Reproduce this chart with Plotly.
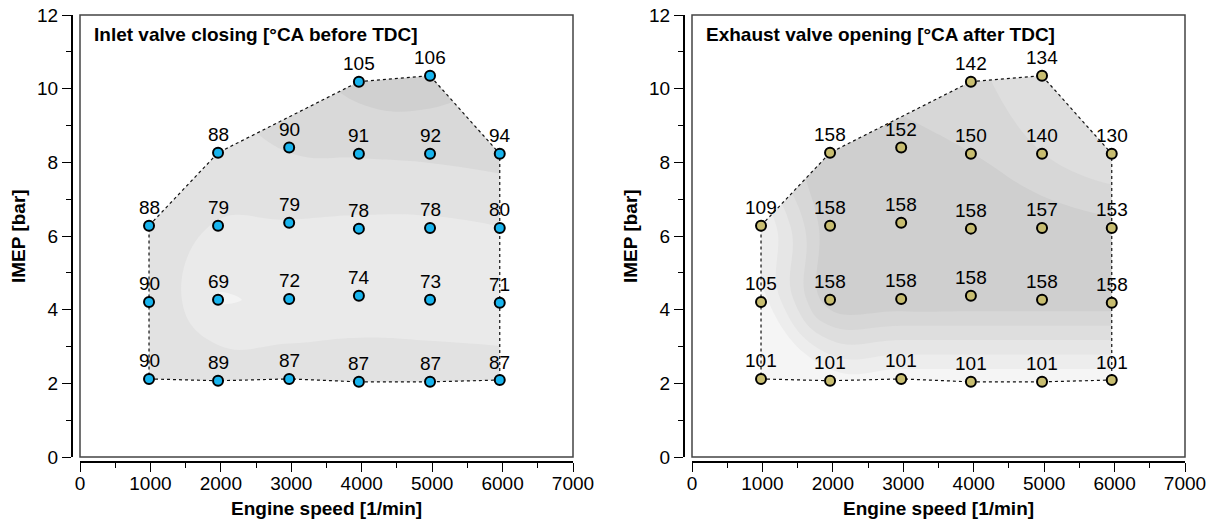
import plotly.graph_objects as go
import numpy as np

# ---------------- data ----------------
speed = [980, 1960, 2970, 3960, 4970, 5960,
         980, 1960, 2970, 3960, 4970, 5960,
         980, 1960, 2970, 3960, 4970, 5960,
         1960, 2970, 3960, 4970, 5960,
         3960, 4970]
imep = [2.12, 2.07, 2.12, 2.04, 2.04, 2.09,
        4.21, 4.27, 4.29, 4.38, 4.27, 4.19,
        6.28, 6.28, 6.36, 6.20, 6.22, 6.22,
        8.26, 8.40, 8.23, 8.23, 8.23,
        10.19, 10.35]
ivc = [90, 89, 87, 87, 87, 87,
       90, 69, 72, 74, 73, 71,
       88, 79, 79, 78, 78, 80,
       88, 90, 91, 92, 94,
       105, 106]
evo = [101, 101, 101, 101, 101, 101,
       105, 158, 158, 158, 158, 158,
       109, 158, 158, 158, 157, 153,
       158, 152, 150, 140, 130,
       142, 134]
# boundary of the measured operating range (indices into the point list)
hull_idx = [0, 1, 2, 3, 4, 5, 11, 17, 22, 24, 23, 18, 12, 6, 0]

titles = ["Inlet valve closing [°CA before TDC]", "Exhaust valve opening [°CA after TDC]"]
x_ticks = [0, 1000, 2000, 3000, 4000, 5000, 6000, 7000]
y_ticks = [0, 2, 4, 6, 8, 10, 12]

W, H = 1215, 522
FONT = "Liberation Sans, Arial, sans-serif"

panels = [
    dict(vals=ivc, color="#18b4ee", x0=80, x1=573, ax="x", ay="y",
         start=70, end=100, size=10, c0="#f3f3f3", c1="#d0d0d0"),
    dict(vals=evo, color="#c8bd70", x0=692, x1=1185, ax="x2", ay="y2",
         start=110, end=150, size=10, c0="#f5f5f5", c1="#cfcfcf"),
]
Y0, Y1 = 15, 457

fig = go.Figure()

sp = np.array(speed, float)
im = np.array(imep, float)
col = np.rint(sp / 1000).astype(int) - 1
row = np.rint(im / 2).astype(int) - 1
ncol, nrow = col.max() + 1, row.max() + 1
gx = np.array([sp[col == c].mean() for c in range(ncol)])
gy = np.array([im[row == r].mean() for r in range(nrow)])
gy[0] = im[row == 0].min()
gy[-1] = im[row == nrow - 1].max()

hx = [speed[i] for i in hull_idx]
hy = [imep[i] for i in hull_idx]

for k, p in enumerate(panels):
    xa, ya = p["ax"], p["ay"]
    z = [[None] * ncol for _ in range(nrow)]
    for c, r, v in zip(col, row, p["vals"]):
        z[r][c] = v
    fig.add_trace(go.Contour(
        x=gx, y=gy, z=z, xaxis=xa, yaxis=ya,
        contours=dict(start=p["start"], end=p["end"], size=p["size"], coloring="fill", showlines=False),
        colorscale=[[0, p["c0"]], [1, p["c1"]]],
        line=dict(width=0, smoothing=1.3), showscale=False, hoverinfo="skip", connectgaps=True))
    # white mask outside the measured range
    ox0, ox1 = gx.min() - 150, gx.max() + 150
    oy0, oy1 = gy.min() - 0.3, gy.max() + 0.3
    mx = [ox0, ox1, ox1, ox0, ox0] + hx[::-1] + [ox0]
    my = [oy0, oy0, oy1, oy1, oy0] + hy[::-1] + [oy0]
    fig.add_trace(go.Scatter(x=mx, y=my, xaxis=xa, yaxis=ya, mode="lines", fill="toself",
                             fillcolor="white", line=dict(width=0), hoverinfo="skip"))
    # dotted boundary
    fig.add_trace(go.Scatter(x=hx, y=hy, xaxis=xa, yaxis=ya, mode="lines",
                             line=dict(color="#111", width=1.2, dash="dot"), hoverinfo="skip"))
    # measured points
    fig.add_trace(go.Scatter(x=speed, y=imep, xaxis=xa, yaxis=ya, mode="markers",
                             marker=dict(size=10, color=p["color"], line=dict(color="black", width=2)),
                             hoverinfo="skip"))
    for xv, yv, v in zip(speed, imep, p["vals"]):
        fig.add_annotation(x=xv, y=yv, xref=xa, yref=ya, text=str(v), showarrow=False,
                           yshift=18, font=dict(size=19, color="black", family=FONT),
                           xanchor="center", yanchor="middle")

    suffix = "" if k == 0 else "2"
    dom_x = [p["x0"] / W, p["x1"] / W]
    dom_y = [1 - Y1 / H, 1 - Y0 / H]
    fig.update_layout(**{
        "xaxis" + suffix: dict(domain=dom_x, range=[0, 7000], anchor="free", position=1 - 462 / H,
                               showline=True, linecolor="black", linewidth=2, ticks="outside",
                               ticklen=9, tickwidth=1, tickcolor="black", tickvals=x_ticks,
                               minor=dict(dtick=500, ticks="outside", ticklen=5, tickcolor="black"),
                               showgrid=False, zeroline=False, automargin=False,
                               ticklabelstandoff=-5,
                               tickfont=dict(size=19, family=FONT, color="black")),
        "yaxis" + suffix: dict(domain=dom_y, range=[0, 12], anchor="free", position=(p["x0"] - 8) / W,
                               showline=True, linecolor="black", linewidth=2, ticks="outside",
                               ticklen=9, tickwidth=1, tickcolor="black", tickvals=y_ticks,
                               minor=dict(dtick=1, ticks="outside", ticklen=5, tickcolor="black"),
                               showgrid=False, zeroline=False, automargin=False,
                               tickfont=dict(size=19, family=FONT, color="black")),
    })
    # plot frame
    fig.add_shape(type="rect", xref=xa + " domain", yref=ya + " domain", x0=0, x1=1, y0=0, y1=1,
                  line=dict(color="#444", width=1.5), layer="above")
    # panel title
    fig.add_annotation(xref=xa + " domain", yref=ya + " domain", x=12 / 493, y=(Y1 - 35) / (Y1 - Y0),
                       text="<b>" + titles[k] + "</b>", showarrow=False, xanchor="left", yanchor="middle",
                       font=dict(size=19, family=FONT, color="black"))
    # axis titles
    fig.add_annotation(xref="paper", yref="paper", x=(p["x0"] + p["x1"]) / 2 / W, y=1 - 508 / H,
                       text="<b>Engine speed [1/min]</b>", showarrow=False, xanchor="center",
                       yanchor="middle", font=dict(size=19, family=FONT, color="black"))
    fig.add_annotation(xref="paper", yref="paper", x=(p["x0"] - 62) / W, y=1 - 236 / H,
                       text="<b>IMEP [bar]</b>", showarrow=False, textangle=-90, xanchor="center",
                       yanchor="middle", font=dict(size=19, family=FONT, color="black"))

fig.update_layout(width=W, height=H, margin=dict(l=0, r=0, t=0, b=0),
                  paper_bgcolor="white", plot_bgcolor="white", showlegend=False,
                  font=dict(family=FONT, color="black"))

fig.write_html("out.html")
